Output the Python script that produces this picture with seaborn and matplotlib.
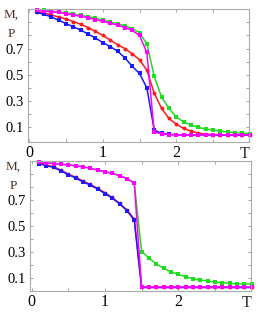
import matplotlib
matplotlib.use("Agg")
import matplotlib.pyplot as plt
import numpy as np
import pandas as pd
import seaborn as sns

# temperature grid, T = 0.1 .. 3.0
T = [round(0.1 * i, 1) for i in range(1, 31)]

# upper panel
top_green = [0.995, 0.99, 0.985, 0.98, 0.972, 0.963, 0.953, 0.943, 0.93, 0.916,
             0.902, 0.888, 0.872, 0.852, 0.82, 0.735, 0.49, 0.33, 0.245, 0.18,
             0.142, 0.117, 0.10, 0.087, 0.08, 0.072, 0.064, 0.059, 0.055, 0.053]
top_red = [0.98, 0.97, 0.955, 0.94, 0.925, 0.905, 0.885, 0.86, 0.83, 0.80,
           0.765, 0.73, 0.70, 0.66, 0.615, 0.535, 0.36, 0.245, 0.168, 0.125,
           0.092, 0.072, 0.056, 0.048, 0.045, 0.044, 0.043, 0.043, 0.042, 0.042]
top_blue = [0.975, 0.96, 0.94, 0.915, 0.89, 0.865, 0.84, 0.81, 0.78, 0.745,
            0.715, 0.68, 0.63, 0.565, 0.51, 0.40, 0.08, 0.055, 0.046, 0.043,
            0.042, 0.042, 0.042, 0.042, 0.042, 0.042, 0.042, 0.042, 0.042, 0.042]
top_magenta = [0.99, 0.985, 0.98, 0.975, 0.965, 0.955, 0.945, 0.935, 0.92, 0.907,
               0.893, 0.878, 0.86, 0.838, 0.80, 0.67, 0.065, 0.05, 0.045, 0.044,
               0.043, 0.043, 0.043, 0.043, 0.043, 0.043, 0.043, 0.043, 0.043, 0.043]

# lower panel
bot_green = [0.99, 0.985, 0.98, 0.975, 0.97, 0.963, 0.955, 0.945, 0.93, 0.918,
             0.905, 0.888, 0.865, 0.83, 0.305, 0.255, 0.21, 0.177, 0.15, 0.13,
             0.112, 0.097, 0.087, 0.079, 0.072, 0.066, 0.061, 0.058, 0.056, 0.055]
bot_red = [0.985, 0.97, 0.955, 0.93, 0.90, 0.875, 0.847, 0.82, 0.79, 0.757,
           0.72, 0.675, 0.625, 0.555, 0.032, 0.031, 0.031, 0.031, 0.031, 0.031,
           0.031, 0.031, 0.031, 0.031, 0.031, 0.031, 0.031, 0.031, 0.031, 0.031]
bot_blue = [0.98, 0.965, 0.95, 0.925, 0.895, 0.87, 0.84, 0.815, 0.785, 0.75,
            0.715, 0.67, 0.62, 0.545, 0.03, 0.03, 0.03, 0.03, 0.03, 0.03,
            0.03, 0.03, 0.03, 0.03, 0.03, 0.03, 0.03, 0.03, 0.03, 0.03]
bot_magenta = bot_green[:14] + [0.033] * 16

series_style = {
    "green": dict(color="#1fdc1f", marker="s", ms=2.4),
    "red": dict(color="#ff1a1a", marker="o", ms=2.8),
    "blue": dict(color="#1a1aff", marker="s", ms=3.2),
    "magenta": dict(color="#ff00ff", marker="s", ms=3.2),
}

y_ticks = [0.1, 0.2, 0.3, 0.4, 0.5, 0.6, 0.7, 0.8, 0.9]
y_labels = ["0.1", "", "0.3", "", "0.5", "", "0.7", "", ""]
x_ticks = [0, 0.5, 1, 1.5, 2, 2.5]
x_labels = ["0", "", "1", "", "2", ""]

sns.set_theme(style="white")
plt.rcParams["font.family"] = ["Liberation Serif", "DejaVu Serif"]

fig = plt.figure(figsize=(2.59, 3.15), dpi=100)
ax_top = fig.add_axes([0.108, 0.549, 0.853, 0.422])
ax_bot = fig.add_axes([0.116, 0.075, 0.853, 0.414])

panels = [
    (ax_top, {"green": top_green, "red": top_red, "blue": top_blue, "magenta": top_magenta}, (-0.012, 1.0)),
    (ax_bot, {"green": bot_green, "red": bot_red, "blue": bot_blue, "magenta": bot_magenta}, (0.0, 1.0)),
]

for ax, data, ylim in panels:
    for name, vals in data.items():
        st = series_style[name]
        df = pd.DataFrame({"T": T, "v": vals})
        sns.lineplot(data=df, x="T", y="v", ax=ax, color=st["color"], lw=1.1,
                     marker=st["marker"], markersize=st["ms"], markeredgewidth=0,
                     clip_on=False)
    ax.set_xlim(-0.02, 2.99)
    ax.set_ylim(*ylim)
    ax.set_xlabel("")
    ax.set_ylabel("")
    ax.set_xticks(x_ticks)
    ax.set_xticklabels(x_labels)
    ax.set_yticks(y_ticks)
    ax.set_yticklabels(y_labels)
    ax.tick_params(direction="in", length=2.2, width=0.6, colors="#999999",
                   top=True, right=True, bottom=True, left=True, labelcolor="black")
    ax.tick_params(axis="x", labelsize=11.5, pad=2)
    ax.tick_params(axis="y", labelsize=10.5, pad=3)
    for sp in ax.spines.values():
        sp.set_color("#aaaaaa")
        sp.set_linewidth(0.8)
    ax.text(2.93, -0.03, "T", transform=ax.get_xaxis_transform(), ha="center", va="top", fontsize=11.5)
    ax.text(-0.075, 0.955, "M,", transform=ax.transAxes, ha="center", va="center",
            fontsize=9.5, color="#4a3020")
    ax.text(-0.075, 0.81, "P", transform=ax.transAxes, ha="center", va="center",
            fontsize=9.5, color="#4a3020")

fig.savefig("out.png", dpi=100)
